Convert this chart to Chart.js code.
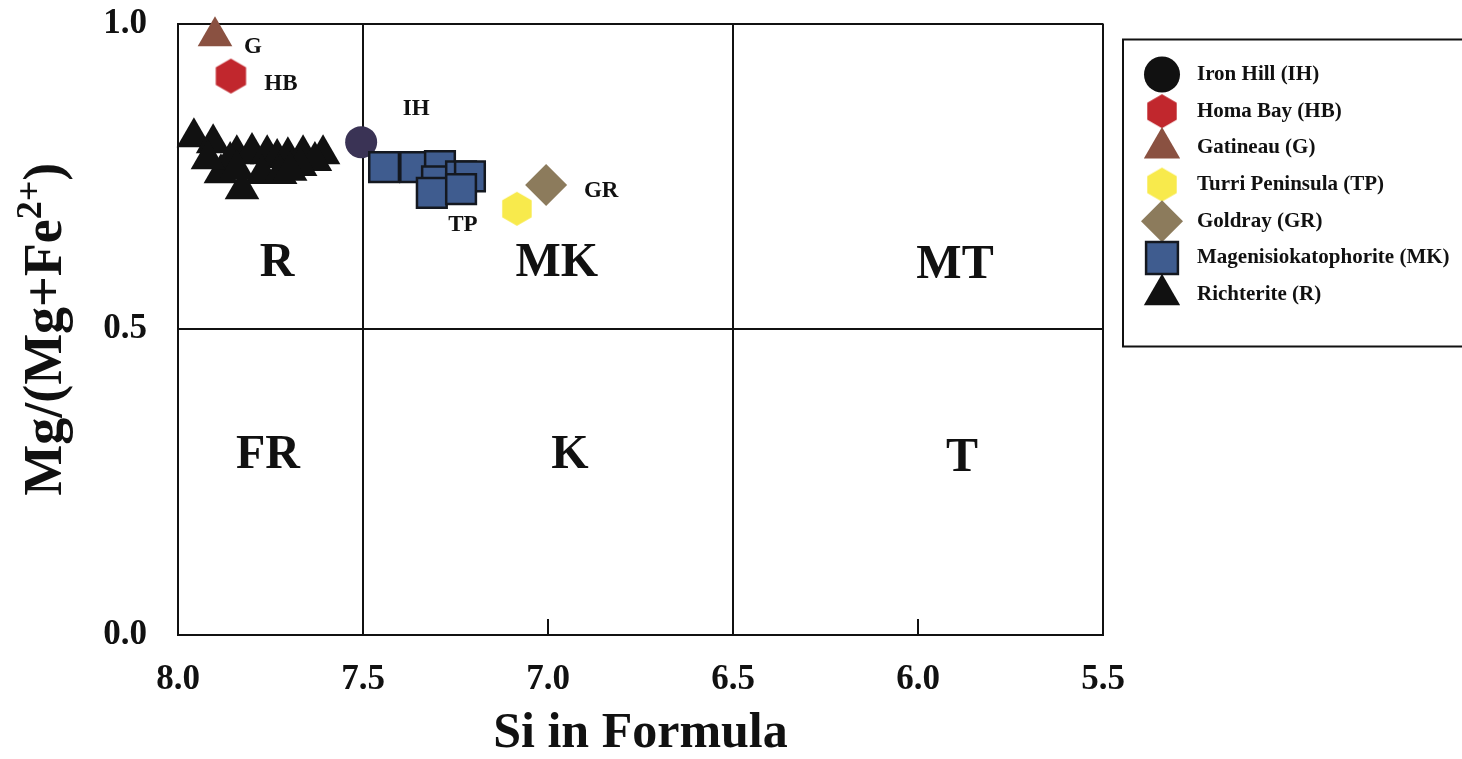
<!DOCTYPE html>
<html>
<head>
<meta charset="utf-8">
<script src="https://cdn.jsdelivr.net/npm/chart.js@4/dist/chart.umd.min.js"></script>
<style>
  html, body { margin: 0; padding: 0; background: #fff; }
  canvas { display: block; }
</style>
</head>
<body>
<canvas id="amphibole" width="1462" height="759"></canvas>
<script>
// Amphibole classification: Si in formula vs Mg/(Mg+Fe2+)
const ironHillSi = [7.505];
const ironHillMg = [0.806];
const homaBaySi = [7.857];
const homaBayMg = [0.914];
const gatineauSi = [7.900];
const gatineauMg = [0.979];
const turriSi = [7.084];
const turriMg = [0.697];
const goldraySi = [7.005];
const goldrayMg = [0.736];
const katophoriteSi = [7.443, 7.359, 7.292, 7.300, 7.235, 7.211, 7.314, 7.235];
const katophoriteMg = [0.765, 0.765, 0.767, 0.742, 0.750, 0.750, 0.723, 0.729];
const richteriteSi = [7.957, 7.905, 7.841, 7.800, 7.759, 7.732, 7.703, 7.662, 7.608,
                      7.884, 7.773, 7.724, 7.827, 7.630, 7.859, 7.670, 7.841, 7.697, 7.919];
const richteriteMg = [0.814, 0.804, 0.786, 0.790, 0.786, 0.780, 0.783, 0.786, 0.786,
                      0.755, 0.754, 0.754, 0.729, 0.775, 0.775, 0.767, 0.762, 0.759, 0.778];

const seriesNames = ['Iron Hill (IH)', 'Homa Bay (HB)', 'Gatineau (G)', 'Turri Peninsula (TP)',
                     'Goldray (GR)', 'Magenisiokatophorite (MK)', 'Richterite (R)'];
const siteTags = ['IH', 'HB', 'G', 'TP', 'GR'];

const xTicks = [8.0, 7.5, 7.0, 6.5, 6.0, 5.5];
const yTicks = [0.0, 0.5, 1.0];

// classification fields, anchored at Si / Mg# coordinates
const fieldNames = ['R', 'MK', 'MT', 'FR', 'K', 'T'];
const fieldSi = [7.732, 6.976, 5.900, 7.757, 6.941, 5.881];
const fieldMg = [0.607, 0.607, 0.604, 0.294, 0.294, 0.289];

const SERIF = "'Liberation Serif', 'Times New Roman', serif";
const INK = '#111111';

function pts(xs, ys) { return xs.map((x, i) => ({ x: x, y: ys[i] })); }

// pointy-top hexagon marker
function hexagon(r, fill) {
  const s = Math.ceil(2 * r + 2);
  const c = document.createElement('canvas');
  c.width = s; c.height = s;
  const g = c.getContext('2d');
  g.beginPath();
  for (let i = 0; i < 6; i++) {
    const a = -Math.PI / 2 + i * Math.PI / 3;
    const px = s / 2 + r * Math.cos(a), py = s / 2 + r * Math.sin(a);
    if (i) g.lineTo(px, py); else g.moveTo(px, py);
  }
  g.closePath();
  g.fillStyle = fill;
  g.fill();
  return c;
}

const hbHex = hexagon(17.5, '#c1272d');
const tpHex = hexagon(17, '#f8ea4c');
const hbHexLegend = hexagon(17, '#c1272d');
const tpHexLegend = hexagon(17, '#f8ea4c');

// label offsets (px) for the locality tags
const tagOffsets = [[55, -33], [50, 8], [38, 11], [-54, 16], [55, 6]];

const datasets = [
  { label: seriesNames[0], data: pts(ironHillSi, ironHillMg), pointStyle: 'circle', pointRadius: 16,
    backgroundColor: '#3a3355', borderColor: '#3a3355', borderWidth: 0, order: 1,
    legendFill: '#111', legendRadius: 18 },
  { label: seriesNames[1], data: pts(homaBaySi, homaBayMg), pointStyle: hbHex, pointRadius: 17,
    backgroundColor: '#c1272d', borderColor: '#c1272d', borderWidth: 0,
    legendStyle: hbHexLegend, legendRadius: 17 },
  { label: seriesNames[2], data: pts(gatineauSi, gatineauMg), pointStyle: 'triangle', pointRadius: 20,
    backgroundColor: '#8a5141', borderColor: '#8a5141', borderWidth: 0, legendRadius: 21 },
  { label: seriesNames[3], data: pts(turriSi, turriMg), pointStyle: tpHex, pointRadius: 17,
    backgroundColor: '#f8ea4c', borderColor: '#f8ea4c', borderWidth: 0,
    legendStyle: tpHexLegend, legendRadius: 17 },
  { label: seriesNames[4], data: pts(goldraySi, goldrayMg), pointStyle: 'rectRot', pointRadius: 21,
    backgroundColor: '#8c7b5c', borderColor: '#8c7b5c', borderWidth: 0, legendRadius: 21 },
  { label: seriesNames[5], data: pts(katophoriteSi, katophoriteMg), pointStyle: 'rect', pointRadius: 21,
    backgroundColor: '#3f5c8f', borderColor: '#141820', borderWidth: 2.5, legendRadius: 22.5 },
  { label: seriesNames[6], data: pts(richteriteSi, richteriteMg), pointStyle: 'triangle', pointRadius: 20,
    backgroundColor: INK, borderColor: INK, borderWidth: 0, legendRadius: 21 }
].map(d => Object.assign({ clip: false, pointHoverRadius: d.pointRadius, order: 0 }, d));

const whiteBackground = {
  id: 'whiteBackground',
  beforeDraw(chart) {
    const ctx = chart.ctx;
    ctx.save();
    ctx.fillStyle = '#fff';
    ctx.fillRect(0, 0, chart.width, chart.height);
    ctx.restore();
  }
};

// short inward ticks at the unlabelled field boundaries
const innerTicks = {
  id: 'innerTicks',
  afterDatasetsDraw(chart) {
    const { ctx, chartArea, scales } = chart;
    ctx.save();
    ctx.strokeStyle = INK;
    ctx.lineWidth = 2;
    [7.0, 6.0].forEach(v => {
      const px = scales.x.getPixelForValue(v);
      ctx.beginPath();
      ctx.moveTo(px, chartArea.bottom);
      ctx.lineTo(px, chartArea.bottom - 16);
      ctx.stroke();
    });
    ctx.restore();
  }
};

// field names and locality tags
const annotations = {
  id: 'annotations',
  afterDatasetsDraw(chart) {
    const { ctx, scales } = chart;
    ctx.save();
    ctx.fillStyle = INK;
    ctx.textAlign = 'center';
    ctx.textBaseline = 'middle';
    ctx.font = 'bold 48px ' + SERIF;
    fieldNames.forEach((name, i) => {
      ctx.fillText(name, scales.x.getPixelForValue(fieldSi[i]), scales.y.getPixelForValue(fieldMg[i]));
    });
    ctx.font = 'bold 23px ' + SERIF;
    siteTags.forEach((tag, i) => {
      const p = chart.getDatasetMeta(i).data[0];
      ctx.fillText(tag, p.x + tagOffsets[i][0], p.y + tagOffsets[i][1]);
    });
    ctx.restore();
  }
};

// rotated y-axis title with superscript charge
const yTitle = {
  id: 'yTitle',
  afterDraw(chart) {
    const { ctx, chartArea } = chart;
    const main = 'bold 54px ' + SERIF;
    const sup = 'bold 36px ' + SERIF;
    ctx.save();
    ctx.translate(61, (chartArea.top + chartArea.bottom) / 2);
    ctx.rotate(-Math.PI / 2);
    ctx.fillStyle = INK;
    ctx.textBaseline = 'alphabetic';
    ctx.textAlign = 'left';
    ctx.font = main;
    const a = 'Mg/(Mg+Fe', c = ')';
    const wa = ctx.measureText(a).width, wc = ctx.measureText(c).width;
    ctx.font = sup;
    const wb = ctx.measureText('2+').width;
    let x = -(wa + wb + wc) / 2;
    ctx.font = main;
    ctx.fillText(a, x, 0); x += wa;
    ctx.font = sup;
    ctx.fillText('2+', x, -20); x += wb;
    ctx.font = main;
    ctx.fillText(c, x, 0);
    ctx.restore();
  }
};

// framed legend to the right of the plot
const framedLegend = {
  id: 'framedLegend',
  afterDraw(chart) {
    const { ctx, chartArea } = chart;
    const left = chartArea.right + 20;
    const top = chartArea.top + 16;
    const markerX = left + 39;
    const textX = left + 74;
    const firstRow = top + 35;
    const gap = 36.7;
    ctx.save();
    ctx.strokeStyle = INK;
    ctx.lineWidth = 2;
    ctx.strokeRect(left, top, 420, 307);
    chart.data.datasets.forEach((ds, i) => {
      const y = firstRow + i * gap;
      ctx.fillStyle = ds.legendFill || ds.backgroundColor;
      ctx.strokeStyle = ds.borderColor;
      ctx.lineWidth = ds.borderWidth || 0;
      Chart.helpers.drawPoint(ctx, {
        pointStyle: ds.legendStyle || ds.pointStyle,
        radius: ds.legendRadius,
        rotation: 0,
        borderWidth: ds.borderWidth || 0
      }, markerX, y);
      ctx.fillStyle = INK;
      ctx.font = 'bold 21px ' + SERIF;
      ctx.textAlign = 'left';
      ctx.textBaseline = 'middle';
      ctx.fillText(ds.label, textX, y);
    });
    ctx.restore();
  }
};

const tickFont = { family: SERIF, size: 35, weight: 'bold' };
const isMinor = v => Math.abs(v - 7.0) < 1e-6 || Math.abs(v - 6.0) < 1e-6;

new Chart(document.getElementById('amphibole'), {
  type: 'scatter',
  data: { datasets: datasets },
  plugins: [whiteBackground, innerTicks, annotations, yTitle, framedLegend],
  options: {
    responsive: false,
    animation: false,
    layout: { padding: { left: 0, right: 359, top: 22, bottom: 0 } },
    plugins: { legend: { display: false }, tooltip: { enabled: false } },
    elements: { point: { borderWidth: 0 } },
    scales: {
      x: {
        type: 'linear',
        reverse: true,
        min: 5.5,
        max: 8.0,
        afterBuildTicks: s => { s.ticks = xTicks.map(v => ({ value: v })); },
        afterFit: s => { s.height = 124; },
        ticks: {
          callback: v => Number(v).toFixed(1),
          font: tickFont, color: INK, padding: 1, maxRotation: 0, autoSkip: false
        },
        grid: {
          drawTicks: true,
          tickLength: 23,
          tickColor: 'rgba(0,0,0,0)',
          lineWidth: 2,
          color: c => (c.tick && isMinor(c.tick.value)) ? 'rgba(0,0,0,0)' : INK
        },
        border: { color: INK, width: 2 },
        title: {
          display: true, text: 'Si in Formula', color: INK,
          font: { family: SERIF, size: 50, weight: 'bold', lineHeight: 1 },
          padding: 0
        }
      },
      y: {
        type: 'linear',
        min: 0,
        max: 1,
        afterBuildTicks: s => { s.ticks = yTicks.map(v => ({ value: v })); },
        afterFit: s => { s.width = 178; },
        ticks: {
          callback: v => Number(v).toFixed(1),
          font: tickFont, color: INK, padding: 1
        },
        grid: {
          drawTicks: true,
          tickLength: 30,
          tickColor: 'rgba(0,0,0,0)',
          lineWidth: 2,
          color: INK
        },
        border: { color: INK, width: 2 }
      }
    }
  }
});
</script>
</body>
</html>
